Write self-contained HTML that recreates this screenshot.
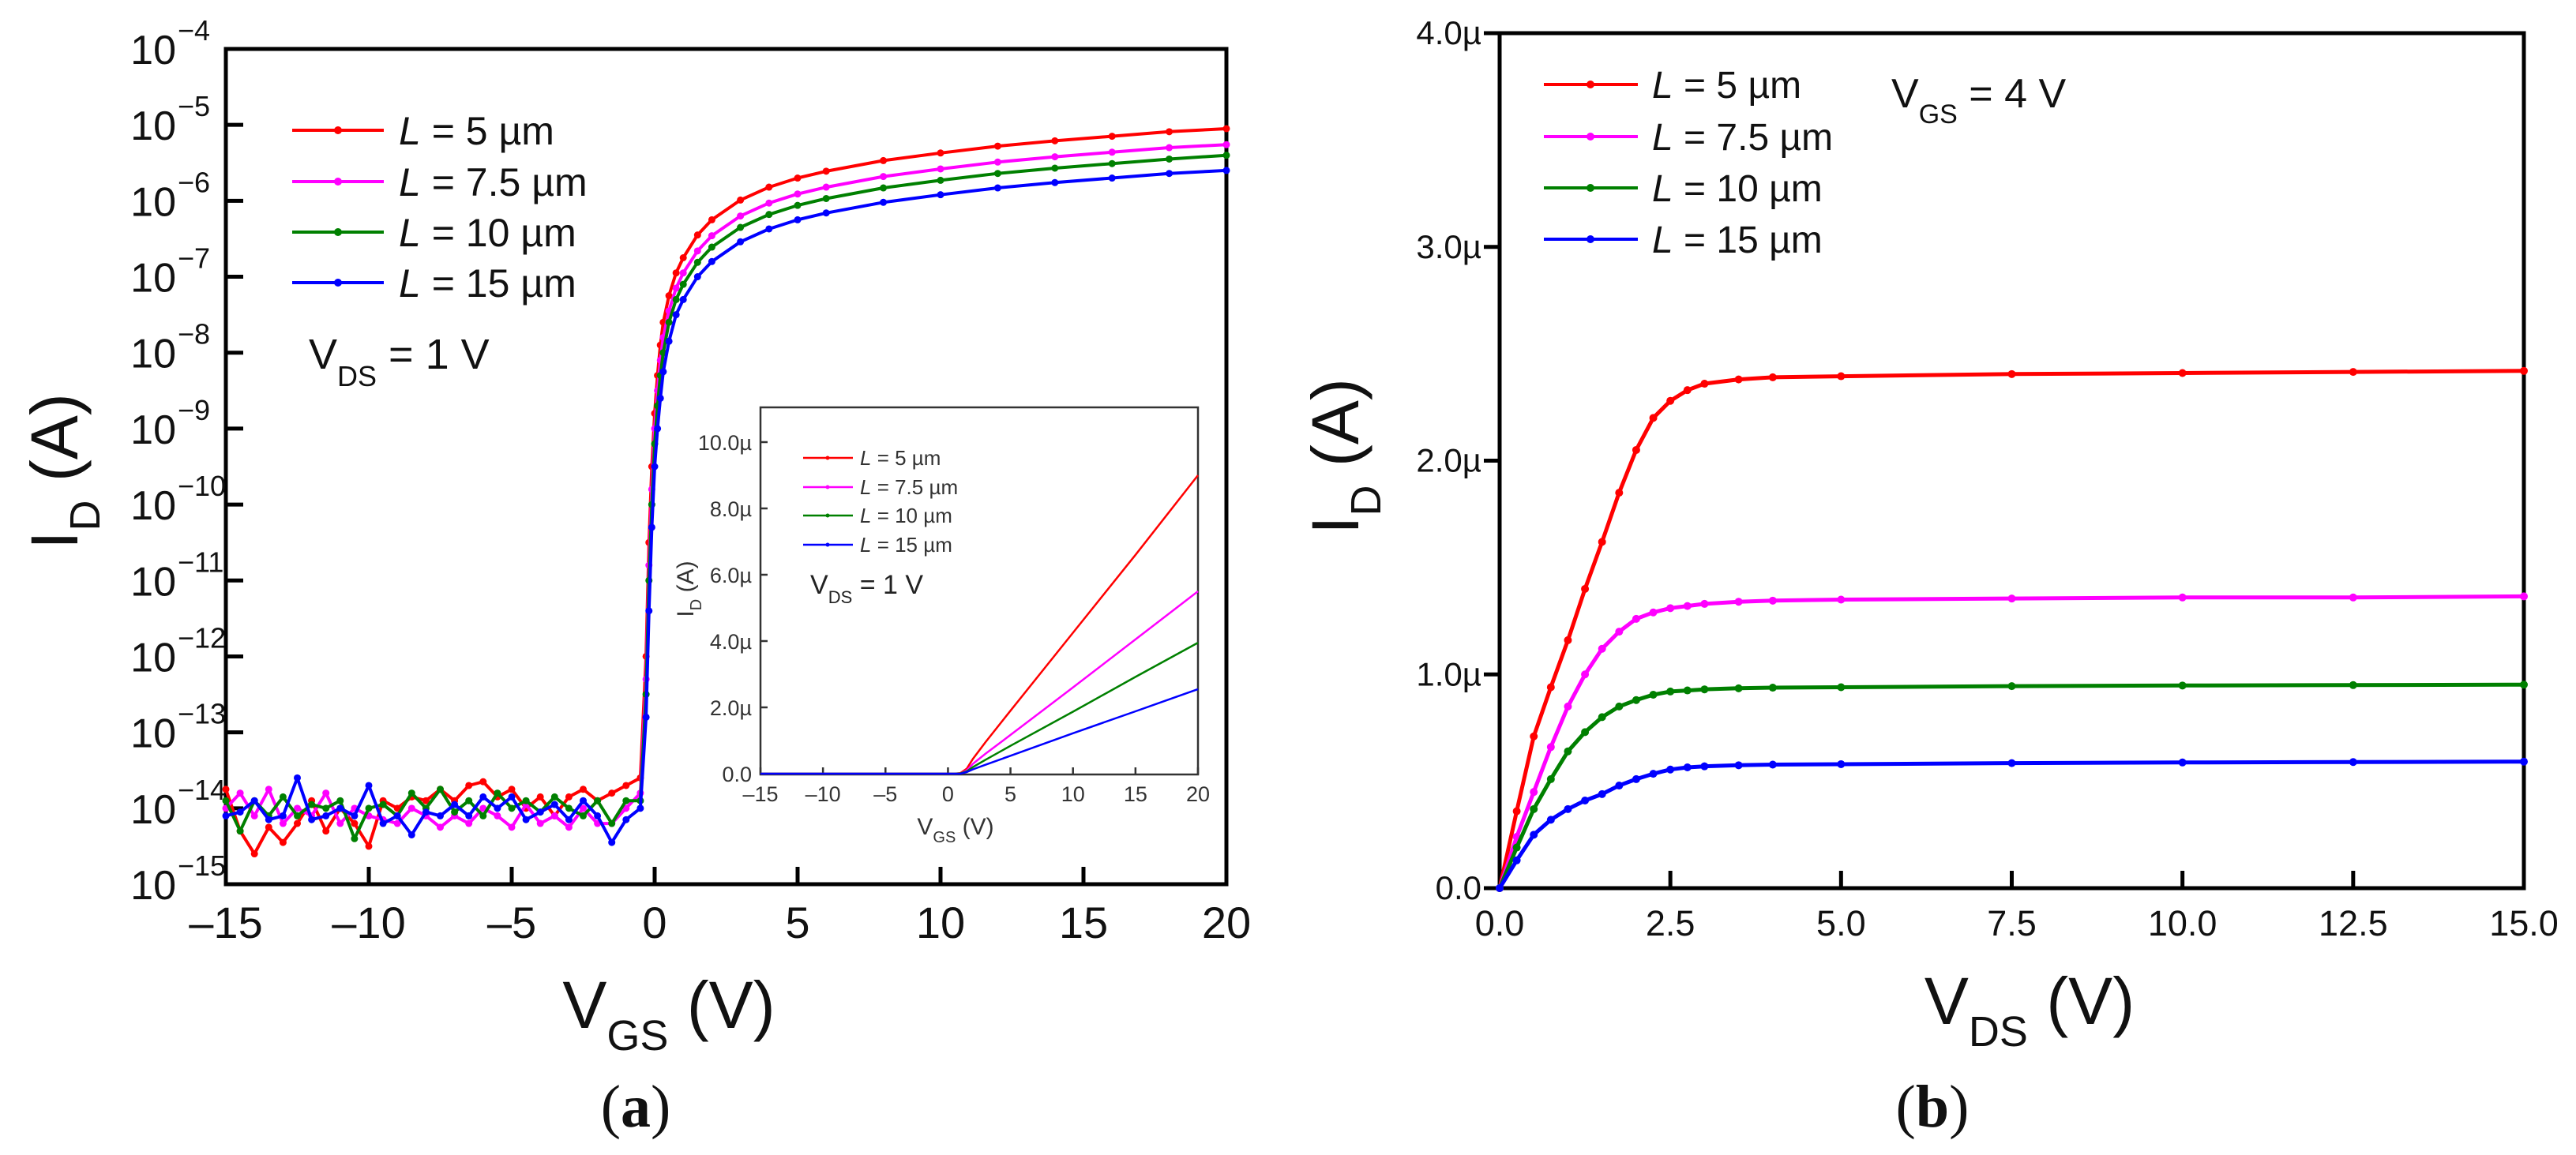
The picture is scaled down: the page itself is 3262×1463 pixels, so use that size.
<!DOCTYPE html>
<html><head><meta charset="utf-8">
<style>
html,body{margin:0;padding:0;background:#fff;}
svg{display:block;font-family:"Liberation Sans",sans-serif;}
</style></head>
<body>
<svg id="fig" width="3262" height="1463" viewBox="0 0 3262 1463" xmlns="http://www.w3.org/2000/svg">
<rect width="3262" height="1463" fill="#fff"/>
<g id="pa"></g>
<g id="pb"></g>
</svg>
<script>
// ---------- Panel (a) data: log10(I_D) vs V_GS ----------
const vgsA = [-15,-14.5,-14,-13.5,-13,-12.5,-12,-11.5,-11,-10.5,-10,-9.5,-9,-8.5,-8,-7.5,-7,-6.5,-6,-5.5,-5,-4.5,-4,-3.5,-3,-2.5,-2,-1.5,-1,
  -0.5,-0.3,-0.2,-0.1,0,0.1,0.2,0.3,0.5,0.75,1,1.5,2,3,4,5,6,8,10,12,14,16,18,20];
const logIdA5 = [-13.75,-14.3,-14.6,-14.25,-14.45,-14.2,-13.9,-14.3,-14.0,-14.2,-14.5,-13.9,-14.0,-13.85,-13.9,-13.75,-13.9,-13.7,-13.65,-13.85,-13.75,-14.0,-13.85,-14.1,-13.85,-13.75,-13.9,-13.8,-13.7,
  -13.6,-12,-10.5,-9.5,-8.8,-8.3,-7.9,-7.6,-7.25,-6.95,-6.75,-6.45,-6.25,-5.99,-5.82,-5.7,-5.61,-5.47,-5.37,-5.28,-5.21,-5.15,-5.09,-5.05];
const logIdA75 = [-14.0,-13.8,-14.1,-13.75,-14.2,-14.0,-14.1,-13.8,-14.2,-14.0,-14.1,-14.15,-14.2,-14.0,-14.1,-14.25,-14.1,-14.2,-14.0,-14.1,-14.25,-13.95,-14.2,-14.1,-14.25,-14.0,-14.2,-14.2,-14.0,
  -13.8,-12.3,-10.8,-9.8,-9.0,-8.5,-8.1,-7.8,-7.45,-7.15,-6.95,-6.66,-6.46,-6.2,-6.03,-5.91,-5.82,-5.68,-5.58,-5.49,-5.42,-5.36,-5.3,-5.26];
const logIdA10 = [-13.9,-14.3,-13.9,-14.1,-13.85,-14.1,-13.95,-14.0,-13.9,-14.4,-14.0,-13.95,-14.1,-13.8,-14.0,-13.75,-14.05,-13.9,-14.1,-13.8,-14.0,-13.9,-14.05,-13.85,-14.0,-14.1,-13.9,-14.2,-13.9,
  -13.9,-12.5,-11.0,-10.0,-9.2,-8.7,-8.3,-8.0,-7.6,-7.3,-7.1,-6.81,-6.61,-6.35,-6.18,-6.06,-5.97,-5.83,-5.73,-5.64,-5.57,-5.51,-5.45,-5.4];
const logIdA15 = [-14.1,-14.05,-13.9,-14.15,-14.1,-13.6,-14.15,-14.1,-14.0,-14.1,-13.7,-14.2,-14.1,-14.35,-14.05,-14.1,-13.95,-14.1,-13.85,-14.0,-13.85,-14.15,-14.05,-13.95,-14.15,-13.9,-14.1,-14.45,-14.15,
  -14.0,-12.8,-11.4,-10.3,-9.5,-9.0,-8.6,-8.25,-7.85,-7.5,-7.3,-7.0,-6.8,-6.54,-6.37,-6.25,-6.16,-6.02,-5.92,-5.83,-5.76,-5.7,-5.64,-5.6];
const xTicksA = [-15,-10,-5,0,5,10,15,20];
const xTickLabelsA = ["\u201315","\u201310","\u20135","0","5","10","15","20"];
const yDecadesA = [-4,-5,-6,-7,-8,-9,-10,-11,-12,-13,-14,-15];

// ---------- Inset data: I_D (µA) vs V_GS (linear) ----------
const vgsIn = [-15,0,0.5,1,1.5,2,3,5,10,15,20];
const idIn5  = [0,0,0,0.02,0.15,0.45,0.95,1.9,4.25,6.6,9.0];
const idIn75 = [0,0,0,0.01,0.1,0.3,0.6,1.17,2.6,4.05,5.5];
const idIn10 = [0,0,0,0.01,0.07,0.2,0.42,0.84,1.87,2.92,3.95];
const idIn15 = [0,0,0,0,0.05,0.13,0.27,0.54,1.22,1.88,2.55];
const xTicksIn = [-15,-10,-5,0,5,10,15,20];
const xTickLabelsIn = ["\u201315","\u201310","\u20135","0","5","10","15","20"];
const yTicksIn = [0,2,4,6,8,10];
const yTickLabelsIn = ["0.0","2.0\u00b5","4.0\u00b5","6.0\u00b5","8.0\u00b5","10.0\u00b5"];

// ---------- Panel (b) data: I_D (µA) vs V_DS ----------
const vdsB = [0,0.25,0.5,0.75,1,1.25,1.5,1.75,2,2.25,2.5,2.75,3,3.5,4,5,7.5,10,12.5,15];
const idB5  = [0,0.36,0.71,0.94,1.16,1.4,1.62,1.85,2.05,2.2,2.28,2.33,2.36,2.38,2.39,2.395,2.405,2.41,2.415,2.42];
const idB75 = [0,0.24,0.45,0.66,0.85,1.0,1.12,1.2,1.26,1.29,1.31,1.32,1.33,1.34,1.345,1.35,1.355,1.36,1.36,1.365];
const idB10 = [0,0.19,0.37,0.51,0.64,0.73,0.8,0.85,0.88,0.905,0.92,0.925,0.93,0.935,0.938,0.94,0.945,0.948,0.95,0.952];
const idB15 = [0,0.13,0.25,0.32,0.37,0.41,0.44,0.48,0.51,0.535,0.555,0.565,0.57,0.575,0.578,0.58,0.585,0.588,0.59,0.592];
const xTicksB = [0,2.5,5,7.5,10,12.5,15];
const xTickLabelsB = ["0.0","2.5","5.0","7.5","10.0","12.5","15.0"];
const yTicksB = [0,1,2,3,4];
const yTickLabelsB = ["0.0","1.0\u00b5","2.0\u00b5","3.0\u00b5","4.0\u00b5"];

const colors = ["#ff0000","#ff00ff","#008000","#0000ff"];
const legendLabels = ["5","7.5","10","15"];

const NS = "http://www.w3.org/2000/svg";
function mk(parent, tag, attrs){const e=document.createElementNS(NS,tag);for(const k in attrs)e.setAttribute(k,attrs[k]);parent.appendChild(e);return e;}

// ===== Panel A =====
const pa = document.getElementById('pa');
const A = {x0:286,x1:1553,y0:62,y1:1120};
const ax = v => A.x0 + (v+15)/35*(A.x1-A.x0);
const ay = lg => A.y0 + (-4-lg)/11*(A.y1-A.y0);

const framA = mk(pa,'rect',{x:A.x0,y:A.y0,width:A.x1-A.x0,height:A.y1-A.y0,fill:'none',stroke:'#000','stroke-width':5});



xTicksA.forEach((v,i)=>{
  const t = mk(pa,'line',{x1:ax(v),x2:ax(v),y1:A.y1,y2:A.y1-22,stroke:'#000','stroke-width':5});
  
  
  const l = mk(pa,'text',{x:ax(v),y:1188,'font-size':56,'text-anchor':'middle',fill:'#111'});
  l.textContent = xTickLabelsA[i];
  
  
});
yDecadesA.forEach(d=>{
  const y = ay(d);
  if(d!==-4 && d!==-15){
    const t = mk(pa,'line',{x1:A.x0,x2:A.x0+22,y1:y,y2:y,stroke:'#000','stroke-width':5});
    
    
  }
  const l = mk(pa,'text',{x:223,y:y+19,'font-size':52,'text-anchor':'end',fill:'#111'});
  l.textContent='10';
  
  
  const s = mk(pa,'text',{x:225,y:y-11,'font-size':36,fill:'#111'});
  s.textContent='\u2212'+(-d);
  
  
});

const seriesA = [logIdA5,logIdA75,logIdA10,logIdA15];
seriesA.forEach((arr,si)=>{
  const pts = arr.map((lg,i)=>ax(vgsA[i]).toFixed(1)+','+ay(lg).toFixed(1)).join(' ');
  const pl = mk(pa,'polyline',{points:pts,fill:'none',stroke:colors[si],'stroke-width':4,'stroke-linejoin':'round'});
  
  
  arr.forEach((lg,i)=>{
    const c = mk(pa,'circle',{cx:ax(vgsA[i]),cy:ay(lg),r:4.5,fill:colors[si]});
    
    
  });
});

// legend A
const legA = mk(pa,'g',{});


[165,230,294,358].forEach((y,i)=>{
  const g = mk(legA,'g',{});
  
  
  mk(g,'line',{x1:370,x2:486,y1:y,y2:y,stroke:colors[i],'stroke-width':4});
  mk(g,'circle',{cx:428,cy:y,r:5,fill:colors[i]});
  const t = mk(g,'text',{x:505,y:y+18,'font-size':50,fill:'#111'});
  t.innerHTML = '<tspan font-style="italic">L</tspan> = '+legendLabels[i]+' \u00b5m';
});
const vdsA = mk(pa,'text',{x:391,y:467,'font-size':54,fill:'#111'});
vdsA.innerHTML='V<tspan font-size="36" dy="22">DS</tspan><tspan dy="-22"> = 1 V</tspan>';



const xtA = mk(pa,'text',{x:847,y:1302,'font-size':84,'text-anchor':'middle',fill:'#111'});
xtA.innerHTML='V<tspan font-size="54" dy="28">GS</tspan><tspan dy="-28"> (V)</tspan>';


const ytA = mk(pa,'text',{x:0,y:0,'font-size':84,'text-anchor':'middle',fill:'#111',transform:'translate(98,597) rotate(-90)'});
ytA.innerHTML='I<tspan font-size="54" dy="28">D</tspan><tspan dy="-28"> (A)</tspan>';


const capA = mk(pa,'text',{x:805,y:1427,'font-size':76,'text-anchor':'middle',fill:'#111','font-family':'Liberation Serif, serif'});
capA.innerHTML='(<tspan font-weight="bold">a</tspan>)';



// ===== Inset =====
const ins = mk(pa,'g',{});


const I = {x0:963,x1:1517,y0:516,y1:981};
const ix = v => I.x0 + (v+15)/35*(I.x1-I.x0);
const iy = v => 980 - v*42;
const fi = mk(ins,'rect',{x:I.x0,y:I.y0,width:I.x1-I.x0,height:I.y1-I.y0,fill:'#fff',stroke:'#333','stroke-width':2.5});


xTicksIn.forEach((v,i)=>{
  const t = mk(ins,'line',{x1:ix(v),x2:ix(v),y1:I.y1,y2:I.y1-9,stroke:'#333','stroke-width':2.5});
  
  
  const l = mk(ins,'text',{x:ix(v),y:1015,'font-size':27,'text-anchor':'middle',fill:'#333'});
  l.textContent = xTickLabelsIn[i];
  
  
});
yTicksIn.forEach((v,i)=>{
  const t = mk(ins,'line',{x1:I.x0,x2:I.x0+9,y1:iy(v),y2:iy(v),stroke:'#333','stroke-width':2.5});
  
  
  const l = mk(ins,'text',{x:952,y:iy(v)+10,'font-size':27,'text-anchor':'end',fill:'#333'});
  l.textContent = yTickLabelsIn[i];
  
  
});
[idIn5,idIn75,idIn10,idIn15].forEach((arr,si)=>{
  const pts = arr.map((v,i)=>ix(vgsIn[i]).toFixed(1)+','+iy(v).toFixed(1)).join(' ');
  const pl = mk(ins,'polyline',{points:pts,fill:'none',stroke:colors[si],'stroke-width':2.5});
  
  
});
[580,617,653,690].forEach((y,i)=>{
  const g = mk(ins,'g',{});
  
  
  mk(g,'line',{x1:1017,x2:1080,y1:y,y2:y,stroke:colors[i],'stroke-width':2.5});
  mk(g,'circle',{cx:1048,cy:y,r:2.5,fill:colors[i]});
  const t = mk(g,'text',{x:1089,y:y+9,'font-size':26,fill:'#333'});
  t.innerHTML = '<tspan font-style="italic">L</tspan> = '+legendLabels[i]+' \u00b5m';
});
const vin = mk(ins,'text',{x:1026,y:752,'font-size':34,fill:'#222'});
vin.innerHTML='V<tspan font-size="22" dy="12">DS</tspan><tspan dy="-12"> = 1 V</tspan>';


const ixt = mk(ins,'text',{x:1210,y:1057,'font-size':30,'text-anchor':'middle',fill:'#333'});
ixt.innerHTML='V<tspan font-size="20" dy="10">GS</tspan><tspan dy="-10"> (V)</tspan>';


const iyt = mk(ins,'text',{x:0,y:0,'font-size':30,'text-anchor':'middle',fill:'#333',transform:'translate(878,746) rotate(-90)'});
iyt.innerHTML='I<tspan font-size="20" dy="10">D</tspan><tspan dy="-10"> (A)</tspan>';



// ===== Panel B =====
const pb = document.getElementById('pb');
const B = {x0:1899,x1:3196,y0:42,y1:1125};
const bx = v => B.x0 + v/15*(B.x1-B.x0);
const by = v => B.y1 - v/4*(B.y1-B.y0);
const fb = mk(pb,'rect',{x:B.x0,y:B.y0,width:B.x1-B.x0,height:B.y1-B.y0,fill:'none',stroke:'#000','stroke-width':5});


xTicksB.forEach((v,i)=>{
  const t = mk(pb,'line',{x1:bx(v),x2:bx(v),y1:B.y1,y2:B.y1-22,stroke:'#000','stroke-width':5});
  
  
  const l = mk(pb,'text',{x:bx(v),y:1185,'font-size':45,'text-anchor':'middle',fill:'#111'});
  l.textContent = xTickLabelsB[i];
  
  
});
yTicksB.forEach((v,i)=>{
  const t = mk(pb,'line',{x1:B.x0,x2:B.x0-20,y1:by(v),y2:by(v),stroke:'#000','stroke-width':5});
  
  
  const l = mk(pb,'text',{x:1876,y:by(v)+14,'font-size':42,'text-anchor':'end',fill:'#111'});
  l.textContent = yTickLabelsB[i];
  
  
});
[idB5,idB75,idB10,idB15].forEach((arr,si)=>{
  const pts = arr.map((v,i)=>bx(vdsB[i]).toFixed(1)+','+by(v).toFixed(1)).join(' ');
  const pl = mk(pb,'polyline',{points:pts,fill:'none',stroke:colors[si],'stroke-width':5,'stroke-linejoin':'round'});
  
  
  arr.forEach((v,i)=>{
    const c = mk(pb,'circle',{cx:bx(vdsB[i]),cy:by(v),r:5,fill:colors[si]});
    
    
  });
});
[107,173,238,303].forEach((y,i)=>{
  const g = mk(pb,'g',{});
  
  
  mk(g,'line',{x1:1955,x2:2074,y1:y,y2:y,stroke:colors[i],'stroke-width':4});
  mk(g,'circle',{cx:2014,cy:y,r:5,fill:colors[i]});
  const t = mk(g,'text',{x:2092,y:y+17,'font-size':48,fill:'#111'});
  t.innerHTML = '<tspan font-style="italic">L</tspan> = '+legendLabels[i]+' \u00b5m';
});
const vgsB = mk(pb,'text',{x:2395,y:136,'font-size':52,fill:'#111'});
vgsB.innerHTML='V<tspan font-size="34" dy="20">GS</tspan><tspan dy="-20"> = 4 V</tspan>';


const xtB = mk(pb,'text',{x:2570,y:1297,'font-size':84,'text-anchor':'middle',fill:'#111'});
xtB.innerHTML='V<tspan font-size="54" dy="28">DS</tspan><tspan dy="-28"> (V)</tspan>';


const ytB = mk(pb,'text',{x:0,y:0,'font-size':84,'text-anchor':'middle',fill:'#111',transform:'translate(1720,578) rotate(-90)'});
ytB.innerHTML='I<tspan font-size="54" dy="28">D</tspan><tspan dy="-28"> (A)</tspan>';


const capB = mk(pb,'text',{x:2447,y:1427,'font-size':76,'text-anchor':'middle',fill:'#111','font-family':'Liberation Serif, serif'});
capB.innerHTML='(<tspan font-weight="bold">b</tspan>)';


</script>
</body></html>
